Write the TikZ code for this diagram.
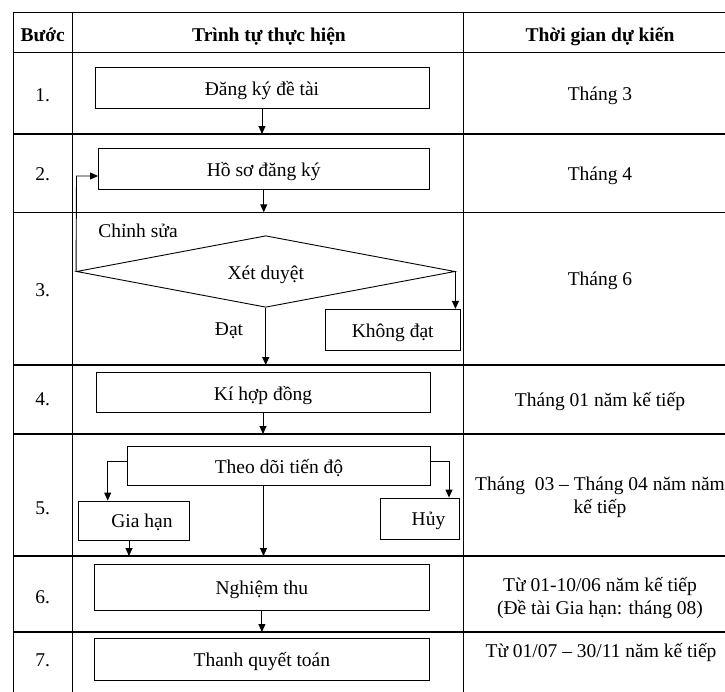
\documentclass[tikz,border=0pt]{standalone}
\usepackage{fontspec}
\setmainfont{Liberation Serif}
\usetikzlibrary{arrows.meta,shapes.geometric}
\newcommand\myfs{\fontsize{19.5}{23}\selectfont}
\tikzset{
  tline/.style={line width=1.1pt, black},
  box/.style={draw, line width=0.9pt, inner sep=0pt, font=\myfs, text height=18pt, text depth=2.8pt},
  txt/.style={inner sep=0pt, font=\myfs, text height=1.5ex, text depth=.25ex, yshift=-4.8pt},
  head/.style={txt, font=\myfs\bfseries},
  arr/.style={line width=0.9pt, -{Triangle[width=7pt,length=8pt]}},
  ln/.style={line width=0.9pt}
}
\begin{document}
\begin{tikzpicture}[x=1pt,y=-1pt]
\useasboundingbox (0,0) rectangle (725,691);
% table grid
\foreach \yy in {12.7,52.7,134,212.3,365,434,556,632}
  \draw[tline] (13.3,\yy) -- (745,\yy);
\foreach \xx in {13.3,72.5,463.7}
  \draw[tline] (\xx,12.7) -- (\xx,700);
\draw[tline] (740,12.7) -- (740,700);
% header
\node[head] (h1) at (42.7,33.5) {Bước};
\node[head] (h2) at (269,33.5) {Trình tự thực hiện};
\node[head] (h3) at (600,33.5) {Thời gian dự kiến};
% step numbers
\node[txt] (n1) at (42.7,94) {1.};
\node[txt] (n2) at (42.7,173) {2.};
\node[txt] (n3) at (42.7,289) {3.};
\node[txt] (n4) at (42.7,398) {4.};
\node[txt] (n5) at (42.7,507) {5.};
\node[txt] (n6) at (42.7,596) {6.};
\node[txt] (n7) at (42.7,659) {7.};
% times
\node[txt] (t1) at (600,93) {Tháng 3};
\node[txt] (t2) at (600,173) {Tháng 4};
\node[txt] (t3) at (600,278) {Tháng 6};
\node[txt] (t4) at (600,399) {Tháng 01 năm kế tiếp};
\node[txt] (t5a) at (600,483) {Tháng\ \ 03 – Tháng 04 năm năm};
\node[txt] (t5b) at (600,506) {kế tiếp};
\node[txt] (t6a) at (600,584) {Từ 01-10/06 năm kế tiếp};
\node[txt] (t6b) at (600,607) {(Đề tài Gia hạn: tháng 08)};
\node[txt] (t7) at (601,650) {Từ 01/07 – 30/11 năm kế tiếp};
% flow boxes
\node[box, minimum width=334pt, minimum height=40.5pt] (b1) at (262,87.75) {Đăng ký đề tài};
\node[box, minimum width=330.5pt, minimum height=41pt] (b2) at (263.75,168.5) {Hồ sơ đăng ký};
\node[diamond, draw, line width=0.9pt, inner sep=0pt, shape aspect=5.3, font=\myfs,
      text height=18pt, text depth=2.8pt,
      minimum width=378.5pt, minimum height=71.6pt] (d) at (265.75,271.5) {Xét duyệt};
\node[box, minimum width=135.5pt, minimum height=41.2pt] (nd) at (392.75,329.9) {Không đạt};
\node[box, minimum width=334pt, minimum height=39.6pt] (b4) at (263,392.5) {Kí hợp đồng};
\node[box, minimum width=303pt, minimum height=39pt] (b5) at (279,465.5) {Theo dõi tiến độ};
\node[box, minimum width=111pt, minimum height=39pt] (gh) at (134,520.5) {};
\node[txt] (ght) at (142,520) {Gia hạn};
\node[box, minimum width=79pt, minimum height=41.3pt] (huy) at (419.5,518.65) {};
\node[txt] (huyt) at (428.5,518) {Hủy};
\node[box, minimum width=334.2pt, minimum height=46pt] (b6) at (261.9,587) {Nghiệm thu};
\node[box, minimum width=334.2pt, minimum height=41.7pt] (b7) at (261.9,659.15) {Thanh quyết toán};
% labels
\node[txt] (cs) at (138,229.5) {Chỉnh sửa};
\node[txt] (dat) at (229,328) {Đạt};
% coordinates
\coordinate (r1) at (0,134);
\coordinate (r2) at (0,212.3);
\coordinate (r3) at (0,365);
\coordinate (r4) at (0,434);
\coordinate (r5) at (0,556);
\coordinate (r6) at (0,632);
\coordinate (fb) at (76.5,176);
\coordinate (gl) at (107.7,461.7);
\coordinate (gr) at (449,461.7);
\coordinate (ghx) at (129,540);
\coordinate (b5x) at (263.5,485);
% connectors
\draw[arr] (b1.south) -- (b1.south |- r1);
\draw[arr] (b2.south) -- (b2.south |- r2);
\draw[arr] (d.west) -- (fb) -- (b2.west |- fb);
\draw[arr] (d.south) -- (d.south |- r3);
\draw[arr] (d.east) -- (d.east |- nd.north);
\draw[arr] (b4.south) -- (b4.south |- r4);
\draw[arr] (b5.west |- gl) -- (gl) -- (gl |- gh.north);
\draw[arr] (b5.east |- gr) -- (gr) -- (gr |- huy.north);
\draw[arr] (b5x) -- (b5x |- r5);
\draw[arr] (ghx) -- (ghx |- r5);
\draw[arr] (b6.south) -- (b6.south |- r6);
\end{tikzpicture}
\end{document}
